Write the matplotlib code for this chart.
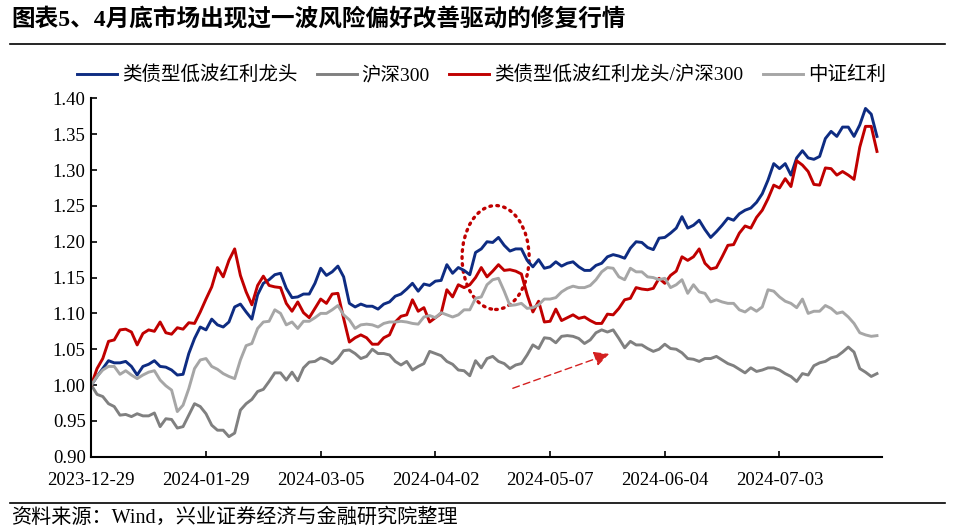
import matplotlib
matplotlib.use("Agg")
import matplotlib.pyplot as plt
from matplotlib.lines import Line2D
from matplotlib.patches import Ellipse

CN = ["Liberation Serif", "Noto Sans CJK SC"]
plt.rcParams["font.family"] = CN

TITLE = "图表5、4月底市场出现过一波风险偏好改善驱动的修复行情"
SOURCE = "资料来源：Wind，兴业证券经济与金融研究院整理"

tick_labels = ["2023-12-29", "2024-01-29", "2024-03-05", "2024-04-02",
               "2024-05-07", "2024-06-04", "2024-07-03"]
tick_step = 20

series_names = ["类债型低波红利龙头", "沪深300", "类债型低波红利龙头/沪深300", "中证红利"]

low_vol_div = [
    1.000, 1.012, 1.023, 1.034, 1.031, 1.031, 1.033, 1.026, 1.014, 1.026,
    1.029, 1.034, 1.026, 1.025, 1.021, 1.014, 1.015, 1.044, 1.065, 1.081,
    1.077, 1.092, 1.084, 1.081, 1.088, 1.109, 1.113, 1.102, 1.092, 1.126,
    1.142, 1.147, 1.154, 1.156, 1.135, 1.122, 1.123, 1.127, 1.127, 1.142,
    1.163, 1.153, 1.158, 1.166, 1.151, 1.114, 1.109, 1.113, 1.110, 1.110,
    1.106, 1.113, 1.116, 1.124, 1.127, 1.134, 1.142, 1.131, 1.141, 1.139,
    1.145, 1.146, 1.168, 1.156, 1.164, 1.160, 1.154, 1.185, 1.190, 1.200,
    1.199, 1.206, 1.195, 1.187, 1.190, 1.190, 1.174, 1.165, 1.175, 1.163,
    1.165, 1.172, 1.166, 1.170, 1.172, 1.165, 1.160, 1.160, 1.167, 1.170,
    1.179, 1.182, 1.180, 1.177, 1.191, 1.200, 1.199, 1.192, 1.189, 1.205,
    1.206, 1.212, 1.219, 1.235, 1.219, 1.223, 1.230, 1.217, 1.206, 1.214,
    1.223, 1.233, 1.230, 1.239, 1.244, 1.247, 1.255, 1.267, 1.286, 1.309,
    1.302, 1.309, 1.293, 1.317, 1.327, 1.317, 1.315, 1.319, 1.344, 1.354,
    1.347, 1.360, 1.360, 1.347, 1.363, 1.386, 1.378, 1.347,
]

hs300 = [
    1.000, 0.987, 0.984, 0.974, 0.970, 0.958, 0.959, 0.956, 0.960, 0.957,
    0.957, 0.961, 0.942, 0.953, 0.952, 0.940, 0.942, 0.958, 0.974, 0.970,
    0.960, 0.944, 0.937, 0.937, 0.928, 0.933, 0.965, 0.974, 0.980, 0.991,
    0.994, 1.005, 1.017, 1.017, 1.007, 1.018, 1.006, 1.024, 1.032, 1.033,
    1.038, 1.035, 1.030, 1.037, 1.048, 1.049, 1.044, 1.037, 1.040, 1.050,
    1.044, 1.044, 1.042, 1.033, 1.028, 1.033, 1.021, 1.026, 1.030, 1.047,
    1.044, 1.041, 1.033, 1.029, 1.021, 1.020, 1.013, 1.034, 1.024, 1.037,
    1.040, 1.033, 1.030, 1.023, 1.028, 1.030, 1.042, 1.056, 1.051, 1.066,
    1.065, 1.059, 1.068, 1.069, 1.068, 1.065, 1.058, 1.063, 1.073, 1.077,
    1.074, 1.077, 1.065, 1.052, 1.061, 1.056, 1.056, 1.051, 1.047, 1.050,
    1.057, 1.051, 1.050, 1.045, 1.037, 1.036, 1.033, 1.037, 1.037, 1.040,
    1.035, 1.030, 1.027, 1.022, 1.017, 1.024, 1.019, 1.021, 1.024, 1.024,
    1.021, 1.016, 1.012, 1.005, 1.016, 1.014, 1.027, 1.031, 1.033, 1.038,
    1.040, 1.046, 1.053, 1.046, 1.023, 1.018, 1.012, 1.016,
]

ratio = [
    1.000, 1.023, 1.037, 1.061, 1.063, 1.077, 1.078, 1.074, 1.056, 1.072,
    1.077, 1.075, 1.088, 1.073, 1.071, 1.080, 1.078, 1.087, 1.086, 1.102,
    1.120, 1.137, 1.164, 1.151, 1.174, 1.190, 1.153, 1.130, 1.112, 1.139,
    1.152, 1.139, 1.137, 1.136, 1.114, 1.103, 1.116, 1.101, 1.094, 1.107,
    1.120, 1.114, 1.127, 1.128, 1.093, 1.060, 1.066, 1.070, 1.066, 1.057,
    1.057, 1.066, 1.070, 1.088, 1.096, 1.098, 1.119, 1.103, 1.108, 1.088,
    1.094, 1.100, 1.133, 1.123, 1.140, 1.136, 1.140, 1.150, 1.164, 1.151,
    1.159, 1.168, 1.160, 1.161, 1.159, 1.155, 1.126, 1.102, 1.117, 1.088,
    1.089, 1.106, 1.090, 1.094, 1.098, 1.093, 1.095, 1.090, 1.086, 1.086,
    1.099, 1.098, 1.107, 1.119, 1.121, 1.136, 1.134, 1.133, 1.135, 1.149,
    1.142, 1.153, 1.159, 1.179, 1.174, 1.179, 1.190, 1.170, 1.162, 1.164,
    1.179, 1.195, 1.196, 1.212, 1.222, 1.219, 1.234, 1.244, 1.260, 1.279,
    1.275, 1.288, 1.277, 1.313, 1.307, 1.298, 1.280, 1.279, 1.303, 1.302,
    1.293, 1.298, 1.293, 1.287, 1.332, 1.361, 1.361, 1.326,
]

csi_div = [
    1.000, 1.012, 1.021, 1.026, 1.026, 1.015, 1.020, 1.014, 1.009, 1.014,
    1.018, 1.020, 1.007, 0.999, 0.993, 0.963, 0.972, 0.995, 1.023, 1.035,
    1.037, 1.026, 1.022, 1.016, 1.012, 1.009, 1.035, 1.055, 1.058, 1.079,
    1.088, 1.089, 1.105, 1.100, 1.084, 1.088, 1.079, 1.089, 1.089, 1.094,
    1.100, 1.100, 1.105, 1.111, 1.098, 1.091, 1.079, 1.084, 1.085, 1.084,
    1.081, 1.086, 1.088, 1.088, 1.089, 1.088, 1.086, 1.085, 1.095, 1.097,
    1.094, 1.101, 1.098, 1.095, 1.098, 1.105, 1.105, 1.121, 1.123, 1.140,
    1.147, 1.149, 1.131, 1.111, 1.112, 1.114, 1.107, 1.108, 1.112, 1.120,
    1.120, 1.122, 1.130, 1.135, 1.138, 1.136, 1.136, 1.139, 1.147, 1.158,
    1.164, 1.163, 1.151, 1.147, 1.163, 1.158, 1.158, 1.151, 1.150, 1.147,
    1.149, 1.136, 1.140, 1.147, 1.128, 1.140, 1.130, 1.128, 1.116, 1.119,
    1.116, 1.114, 1.114, 1.105, 1.102, 1.108, 1.103, 1.109, 1.133, 1.131,
    1.123, 1.117, 1.114, 1.108, 1.120, 1.100, 1.103, 1.103, 1.111, 1.107,
    1.100, 1.102, 1.095, 1.086, 1.073, 1.070, 1.068, 1.069,
]

colors = ["#0E2C82", "#808080", "#C00000", "#A6A6A6"]

fig = plt.figure(figsize=(9.55, 5.32), dpi=100)
ax = fig.add_axes([0.0956, 0.1415, 0.8275, 0.6735])

x = list(range(len(low_vol_div)))
for name, vals, c in zip(series_names, [low_vol_div, hs300, ratio, csi_div], colors):
    ax.plot(x, vals, color=c, lw=2.1, label=name)

# annotations: dotted ellipse and dashed arrow
ax.add_patch(Ellipse((70.5, 1.178), 11.7, 0.145, fill=False, edgecolor="#C00000",
                     lw=2.4, linestyle=(0, (0.5, 1.6)), capstyle="round"))
ax.annotate("", xy=(90.3, 1.0435), xytext=(73.5, 0.9955),
            arrowprops=dict(arrowstyle="-|>,head_length=0.9,head_width=0.45",
                            color="#D42020", lw=1.0, linestyle=(0, (5, 3)),
                            shrinkA=0, shrinkB=0))

ax.set_xlim(0, 137.8)
ax.set_ylim(0.90, 1.40)
ax.set_yticks([0.90 + 0.05 * k for k in range(11)])
ax.set_yticklabels([f"{0.90 + 0.05 * k:.2f}" for k in range(11)])
ax.set_xticks([tick_step * k for k in range(len(tick_labels))])
ax.set_xticklabels(tick_labels)
ax.tick_params(axis="both", direction="in", length=4, width=1.2, labelsize=13.5,
               colors="black")
ax.tick_params(axis="x", pad=11)
ax.tick_params(axis="y", pad=4)
for s in ["top", "right"]:
    ax.spines[s].set_visible(False)
for s in ["left", "bottom"]:
    ax.spines[s].set_linewidth(1.5)

fig.legend(loc="center", bbox_to_anchor=(0.504, 1 - 75 / 532), ncol=4, frameon=False,
           fontsize=14, handlelength=2.05, handletextpad=0.26, columnspacing=1.0)

fig.text(0.012, 1 - 20 / 532, TITLE, fontsize=17, fontweight="bold", va="center",
         ha="left")
fig.add_artist(Line2D([0.010, 0.990], [1 - 44 / 532] * 2, color="black", lw=1.2))
fig.add_artist(Line2D([0.010, 0.990], [1 - 503 / 532] * 2, color="black", lw=1.2))
fig.text(0.012, 1 - 518 / 532, SOURCE, fontsize=14.5, va="center", ha="left")

fig.savefig("out.png", dpi=100)
